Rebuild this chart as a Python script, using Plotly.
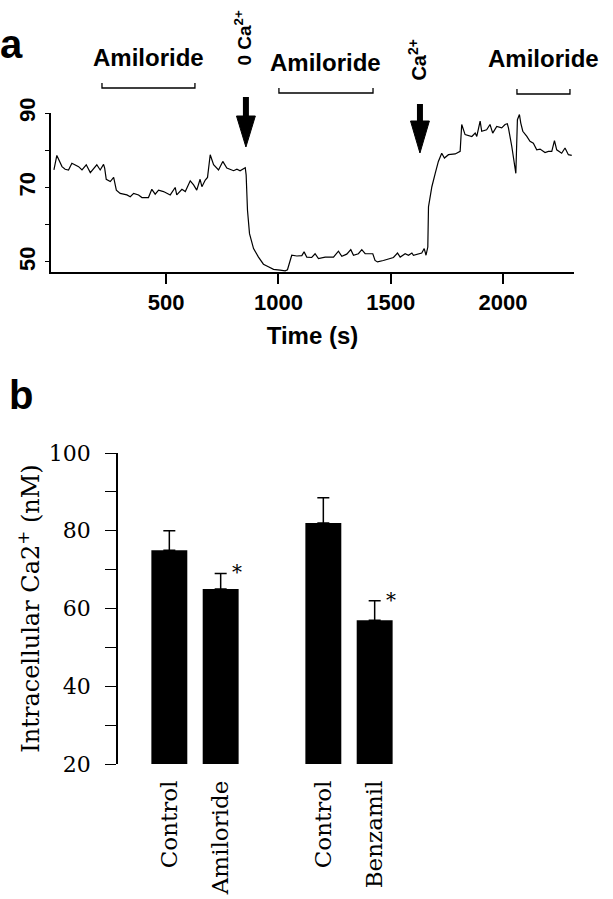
import plotly.graph_objects as go

W, H = 613, 899

# ---------------- data: panel a (trace) ----------------
time_s = [0, 13, 36, 50, 65, 80, 110, 125, 144, 162, 191, 206, 221, 226, 233, 251, 266, 278, 295, 325,
          340, 355, 377, 392, 421, 436, 451, 466, 488, 503, 518, 540, 547, 570, 585, 607, 622, 636, 651, 659,
          674, 684, 696, 711, 733, 752, 770, 800, 815, 829, 852, 856, 862, 871, 889, 911, 933, 955, 978, 1007,
          1030, 1040, 1059, 1082, 1104, 1114, 1126, 1148, 1163, 1178, 1208, 1245, 1267, 1282, 1304, 1322, 1334,
          1356, 1371, 1386, 1420, 1430, 1441, 1467, 1497, 1512, 1530, 1542, 1564, 1579, 1594, 1601, 1638, 1649,
          1657, 1665, 1668, 1672, 1683, 1698, 1712, 1727, 1739, 1757, 1787, 1809, 1816, 1831, 1861, 1876, 1883,
          1898, 1905, 1927, 1942, 1954, 1972, 1994, 2009, 2019, 2024, 2039, 2057, 2064, 2073, 2079, 2088, 2106,
          2120, 2135, 2150, 2165, 2187, 2202, 2217, 2229, 2239, 2261, 2276, 2291, 2306]
ca_trace = [74.7, 78.6, 75.6, 74.9, 74.7, 76.5, 75.6, 74.7, 76.1, 74.0, 76.1, 74.7, 76.2, 75.2, 72.2, 71.6, 72.7,
            69.3, 68.4, 68.0, 67.5, 68.4, 68.0, 67.3, 67.3, 69.5, 68.2, 69.3, 68.9, 68.4, 68.0, 70.0, 68.0, 69.5,
            68.9, 71.8, 70.7, 69.3, 72.2, 70.2, 72.0, 72.7, 78.8, 76.1, 74.7, 77.0, 75.2, 74.5, 74.9, 74.5, 75.3,
            73.4, 63.9, 57.6, 53.6, 51.3, 49.4, 48.7, 48.0, 47.8, 47.6, 47.9, 51.8, 51.6, 51.7, 52.7, 51.3, 51.2,
            52.2, 50.9, 51.3, 51.3, 52.9, 51.5, 52.1, 53.3, 51.8, 52.2, 53.3, 52.2, 52.2, 50.4, 50.0, 50.4, 50.9,
            51.2, 52.4, 51.3, 52.2, 51.8, 52.4, 51.8, 52.4, 53.6, 51.8, 54.0, 64.8, 66.6, 70.2, 73.8, 77.0, 79.2,
            77.9, 78.8, 79.0, 79.7, 86.9, 84.2, 83.7, 84.6, 83.7, 87.8, 85.1, 85.5, 86.9, 84.6, 86.4, 86.0, 86.9,
            87.1, 86.0, 81.0, 73.8, 88.2, 89.6, 87.3, 85.1, 83.7, 82.4, 81.9, 80.1, 80.3, 79.4, 79.7, 79.7, 82.6,
            80.1, 79.2, 80.6, 78.8, 78.6]

# drug application periods (s) and event times (s)
amiloride_start = [214, 1002, 2062]
amiloride_end = [628, 1421, 2298]
event_times = [855, 1630]
event_labels = ["0 Ca<sup>2+</sup>", "Ca<sup>2+</sup>"]

top_yticks = [50, 60, 70, 80, 90]
top_yticktext = ["50", "", "70", "", "90"]
top_xticks = [500, 1000, 1500, 2000]

# ---------------- data: panel b (bars) ----------------
bar_labels = ["Control", "Amiloride", "Control", "Benzamil"]
bar_slots = [0, 1, 3, 4]
bar_means = [75.0, 65.0, 82.0, 57.0]
bar_sem = [5.0, 4.0, 6.5, 5.0]
bar_signif = ["", "*", "", "*"]

bot_yticks = [20, 30, 40, 50, 60, 70, 80, 90, 100]
bot_yticktext = ["20", "", "40", "", "60", "", "80", "", "100"]


def px(x):
    return x / W


def py(y):
    return 1 - y / H


SANS = "Liberation Sans, Arial, sans-serif"
SERIF = "DejaVu Serif, serif"

fig = go.Figure()

fig.add_trace(go.Scatter(x=time_s, y=ca_trace, mode="lines",
                         line=dict(color="black", width=1.2),
                         xaxis="x", yaxis="y", showlegend=False, hoverinfo="skip"))

fig.add_trace(go.Bar(x=bar_slots, y=bar_means, marker=dict(color="black", line=dict(width=0)),
                     width=0.7,
                     error_y=dict(type="data", symmetric=False, array=bar_sem,
                                  arrayminus=[0] * len(bar_sem), color="black",
                                  thickness=1.5, width=6),
                     xaxis="x2", yaxis="y2", showlegend=False, hoverinfo="skip"))

fig.update_layout(
    width=W, height=H,
    margin=dict(l=0, r=0, t=0, b=0, autoexpand=False),
    paper_bgcolor="white", plot_bgcolor="white",
    xaxis=dict(domain=[px(51), px(574)], range=[-13, 2316], anchor="y", automargin=False,
               tickvals=top_xticks, ticks="outside", ticklen=10, tickwidth=1.5, tickcolor="black",
               showline=True, linecolor="black", linewidth=2, showgrid=False, zeroline=False,
               tickfont=dict(family=SANS, size=22, color="black", weight="bold"),
               title=dict(text="Time (s)", font=dict(family=SANS, size=24, color="black", weight="bold"),
                          standoff=13)),
    yaxis=dict(domain=[py(272), py(113)], range=[47.3, 90], anchor="x", automargin=False,
               tickvals=top_yticks, ticktext=top_yticktext, ticks="outside", ticklen=4,
               tickwidth=1.2, tickcolor="black", tickangle=-90,
               showline=True, linecolor="black", linewidth=1.5, showgrid=False, zeroline=False,
               tickfont=dict(family=SANS, size=22, color="black", weight="bold"),
               ticklabelstandoff=1),
    xaxis2=dict(domain=[px(118), px(426)], range=[-1.0, 5.0], anchor="y2", automargin=False,
                tickvals=bar_slots, ticktext=bar_labels, tickangle=-90, ticks="",
                showline=False, showgrid=False, zeroline=False,
                tickfont=dict(family=SERIF, size=23, color="black"),
                ticklabelstandoff=11),
    yaxis2=dict(domain=[py(764), py(453)], range=[20, 100], anchor="x2", automargin=False,
                tickvals=bot_yticks, ticktext=bot_yticktext, ticks="outside", ticklen=11,
                tickwidth=1.2, tickcolor="black",
                showline=True, linecolor="black", linewidth=1.5, showgrid=False, zeroline=False,
                tickfont=dict(family=SERIF, size=22, color="black"),
                ticklabelstandoff=10,
                title=dict(text="Intracellular Ca2<sup>+</sup> (nM)",
                           font=dict(family=SERIF, size=24, color="black"), standoff=2)),
)

shapes = []
annotations = []

# panel letters
annotations.append(dict(text="a", x=px(12), y=py(44), xref="paper", yref="paper", showarrow=False,
                        xanchor="center", yanchor="middle",
                        font=dict(family=SANS, size=40, color="black", weight="bold")))
annotations.append(dict(text="b", x=px(21), y=py(395), xref="paper", yref="paper", showarrow=False,
                        xanchor="center", yanchor="middle",
                        font=dict(family=SANS, size=40, color="black", weight="bold")))

# amiloride brackets + labels
label_y = [58, 63, 59]
bracket_y = [88, 93, 94]
for s, e, ly, by in zip(amiloride_start, amiloride_end, label_y, bracket_y):
    shapes.append(dict(type="path", xref="x", yref="paper",
                       path=f"M {s},{py(by - 5)} L {s},{py(by)} L {e},{py(by)} L {e},{py(by - 5)}",
                       line=dict(color="black", width=1.3)))
    annotations.append(dict(text="Amiloride", x=(s + e) / 2, y=py(ly), xref="x", yref="paper",
                            showarrow=False, xanchor="center", yanchor="middle",
                            font=dict(family=SANS, size=24, color="black", weight="bold")))

# events: rotated labels and arrows
ev_label_y = [38, 60]
ev_label_size = [19, 20]
shaft_top = [97, 104]
head_top = [116, 121]
head_tip = [147, 153]
half_head = 42  # seconds (~9 px)
for t, lab, ly, fs, st, ht, tip in zip(event_times, event_labels, ev_label_y, ev_label_size,
                                       shaft_top, head_top, head_tip):
    annotations.append(dict(text=lab, x=t - 15, y=py(ly), xref="x", yref="paper", showarrow=False,
                            textangle=-90, xanchor="center", yanchor="middle",
                            font=dict(family=SANS, size=fs, color="black", weight="bold")))
    shapes.append(dict(type="line", xref="x", yref="paper", x0=t, x1=t, y0=py(st), y1=py(ht + 2),
                       line=dict(color="black", width=6)))
    shapes.append(dict(type="path", xref="x", yref="paper",
                       path=f"M {t - half_head},{py(ht)} L {t + half_head},{py(ht)} L {t},{py(tip)} Z",
                       fillcolor="black", line=dict(color="black", width=1)))

# significance stars
for xs, m, se, sig in zip(bar_slots, bar_means, bar_sem, bar_signif):
    if sig:
        annotations.append(dict(text=sig, x=xs + 0.32, y=m + se + 0.3, xref="x2", yref="y2",
                                showarrow=False, xanchor="center", yanchor="middle",
                                font=dict(family=SERIF, size=20, color="black")))

fig.update_layout(shapes=shapes, annotations=annotations)

fig.write_html("out.html", config={"displayModeBar": False},
               post_script="document.body.style.margin='0';document.body.style.overflow='hidden';")
